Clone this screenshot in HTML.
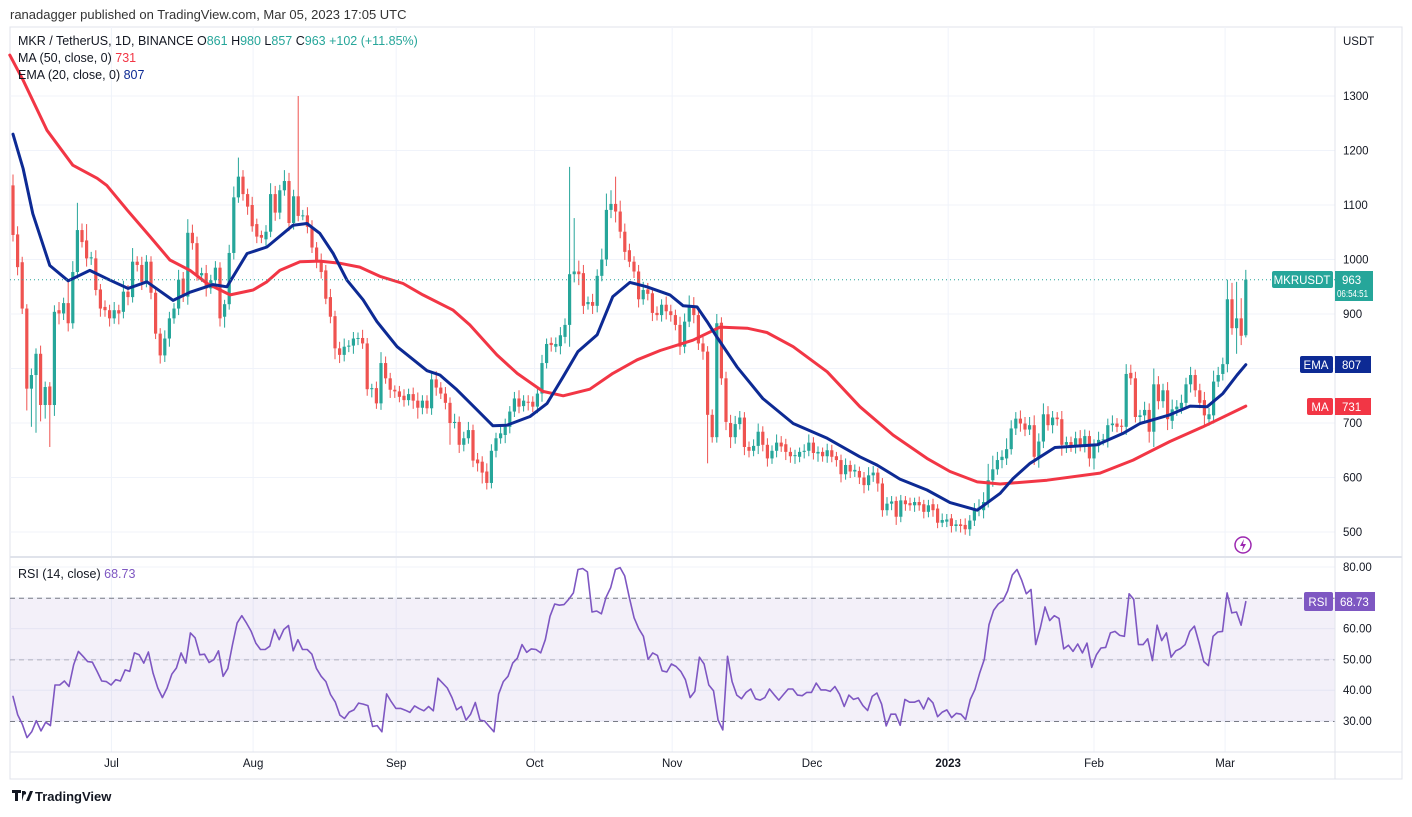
<!DOCTYPE html>
<html><head><meta charset="utf-8"><style>
html,body{margin:0;padding:0;background:#fff;}
body{width:1412px;height:812px;overflow:hidden;font-family:"Liberation Sans",sans-serif;}
svg text{font-family:"Liberation Sans",sans-serif;}
</style></head><body>
<svg id="chart" width="1412" height="812" viewBox="0 0 1412 812" xmlns="http://www.w3.org/2000/svg">
<rect x="0" y="0" width="1412" height="812" fill="#fff"/>
<text x="10" y="19" font-size="13" fill="#333">ranadagger published on TradingView.com, Mar 05, 2023 17:05 UTC</text>
<rect x="10" y="27" width="1392" height="752" fill="none" stroke="#e0e3eb"/>
<g id="grid"></g>
<rect x="10" y="598.3" width="1325" height="123.2" fill="#7e57c2" fill-opacity="0.09"/>
<line x1="10" x2="1335" y1="598.3" y2="598.3" stroke="#787b86" stroke-dasharray="5,4"/>
<line x1="10" x2="1335" y1="659.9" y2="659.9" stroke="#787b86" stroke-opacity="0.5" stroke-dasharray="5,4"/>
<line x1="10" x2="1335" y1="721.5" y2="721.5" stroke="#787b86" stroke-dasharray="5,4"/>
<line x1="10" x2="1402" y1="557" y2="557" stroke="#e0e3eb" stroke-width="2"/>
<line x1="10" x2="1402" y1="752" y2="752" stroke="#e0e3eb"/>
<line x1="1335" x2="1335" y1="27" y2="779" stroke="#e0e3eb"/>
<g id="candles"></g>
<g id="lines"></g>
<g id="labels"></g>
<text x="18" y="45" font-size="12.5" fill="#131722">MKR / TetherUS, 1D, BINANCE  <tspan fill="#131722">O</tspan><tspan fill="#26a69a">861</tspan>  H<tspan fill="#26a69a">980</tspan>  L<tspan fill="#26a69a">857</tspan>  C<tspan fill="#26a69a">963</tspan> <tspan fill="#26a69a">+102 (+11.85%)</tspan></text>
<text x="18" y="62" font-size="12.5" fill="#131722">MA (50, close, 0)  <tspan fill="#f23645">731</tspan></text>
<text x="18" y="79" font-size="12.5" fill="#131722">EMA (20, close, 0)  <tspan fill="#0d2a94">807</tspan></text>
<text x="18" y="578" font-size="12.5" fill="#131722">RSI (14, close)  <tspan fill="#7e57c2">68.73</tspan></text>
<text x="1343" y="45" font-size="11.5" fill="#131722">USDT</text>
<g>
<line x1="10" x2="1335" y1="279.7" y2="279.7" stroke="#26a69a" stroke-dasharray="1,3"/>
<rect x="1272" y="271" width="61" height="17" rx="2" fill="#26a69a"/>
<text x="1302" y="284" font-size="11.5" fill="#fff" text-anchor="middle">MKRUSDT</text>
<rect x="1335" y="271" width="38" height="30" fill="#26a69a"/>
<text x="1342" y="284" font-size="11.5" fill="#fff">963</text>
<text x="1337" y="297" font-size="10" fill="#fff" textLength="31" lengthAdjust="spacingAndGlyphs">06:54:51</text>
</g>
<g>
<rect x="1300" y="356" width="33" height="17" rx="2" fill="#0d2a94"/>
<text x="1316" y="369" font-size="11.5" fill="#fff" text-anchor="middle">EMA</text>
<rect x="1335" y="356" width="36" height="17" fill="#0d2a94"/>
<text x="1342" y="369" font-size="11.5" fill="#fff">807</text>
</g>
<g>
<rect x="1307" y="398" width="26" height="17" rx="2" fill="#f23645"/>
<text x="1320" y="411" font-size="11.5" fill="#fff" text-anchor="middle">MA</text>
<rect x="1335" y="398" width="36" height="17" fill="#f23645"/>
<text x="1342" y="411" font-size="11.5" fill="#fff">731</text>
</g>
<g id="rsiLabel">
<rect x="1304" y="592" width="29" height="19" rx="2" fill="#7e57c2"/>
<text x="1318" y="606" font-size="11.5" fill="#fff" text-anchor="middle">RSI</text>
<rect x="1335" y="592" width="40" height="19" fill="#7e57c2"/>
<text x="1340" y="606" font-size="11.5" fill="#fff">68.73</text>
</g>
<g>
<circle cx="1243" cy="545" r="8" fill="#fff" stroke="#9c27b0" stroke-width="1.5"/>
<path d="M1244 539 L1240 546 L1243 546 L1242 551 L1246 544 L1243 544 Z" fill="#9c27b0"/>
</g>
<g>
<path d="M12 790 h9 v3 h-3 v8 h-3 v-8 h-3z M22 791 l3 0 l-3 10z" fill="#131722"/>
<circle cx="24.5" cy="793" r="1.6" fill="#131722"/>
<path d="M26 801 l4 -10 h3 l-4 10z" fill="#131722"/>
<text x="35" y="801" font-size="13" font-weight="bold" fill="#131722">TradingView</text>
</g>
</svg>
<script>
const open_=[1136,1046,995,910,763,788,827,733,767,733,907,901,920,883,977,1054,1035,1002,1002,945,913,907,892,907,904,941,931,996,990,959,996,939,864,824,855,892,910,965,932,1049,1030,971,975,947,962,985,895,918,1012,1114,1152,1120,1100,1065,1045,1037,1051,1120,1086,1127,1144,1067,1116,1080,1081,1060,1022,999,980,931,896,837,825,840,842,855,856,846,762,764,736,810,782,761,758,750,742,753,741,728,741,727,780,765,754,737,700,702,660,672,687,633,629,611,590,649,672,678,693,721,745,731,739,739,730,754,810,847,840,841,858,880,973,978,975,918,922,915,970,1000,1091,1102,1088,1051,1017,996,978,927,945,938,902,898,917,905,898,880,840,886,916,898,846,831,715,674,884,782,700,674,698,710,656,649,658,684,660,635,649,664,661,647,640,638,647,649,664,644,647,639,650,639,632,606,623,611,612,600,586,604,609,589,540,552,557,528,558,553,549,555,551,537,551,543,517,519,525,511,514,513,505,521,541,540,555,595,615,632,635,652,690,708,699,688,696,638,666,716,696,710,707,660,665,659,672,658,676,635,658,669,670,696,699,695,693,792,782,711,714,724,684,771,740,760,704,725,727,737,771,788,760,742,707,714,776,790,808,927,874,892,861];
const close_=[1045,986,910,763,788,827,733,766,733,904,901,920,883,977,1054,1032,1002,1004,944,910,907,892,907,901,941,931,996,990,959,996,939,864,824,855,892,910,963,932,1049,1030,971,975,947,962,985,892,918,1012,1114,1152,1120,1097,1061,1042,1040,1051,1120,1086,1127,1144,1067,1116,1080,1081,1060,1022,999,977,928,895,837,825,840,842,855,856,846,762,764,736,810,782,761,758,748,742,753,741,728,741,727,780,765,754,737,700,702,660,672,687,631,626,609,590,649,672,681,693,721,745,730,741,738,730,754,810,845,843,845,861,880,973,978,973,915,922,915,970,1000,1091,1102,1088,1051,1014,996,978,927,944,937,902,898,917,905,898,880,840,886,916,898,846,831,715,674,883,782,702,674,698,710,656,649,658,684,660,635,649,664,657,647,639,641,647,649,664,645,647,639,650,638,632,606,623,611,614,600,586,604,609,589,540,552,556,528,558,551,549,555,549,537,549,540,517,522,523,511,514,511,505,521,541,545,555,595,615,632,638,652,690,708,699,688,696,638,666,716,696,710,707,660,665,659,672,658,676,635,658,669,670,696,699,693,693,790,782,711,714,724,684,771,740,760,707,725,730,737,771,788,760,737,714,716,776,788,808,927,874,892,860,963];
const wickUp=[20,15,10,8,12,10,15,10,8,12,15,10,40,20,50,12,30,10,15,10,12,10,15,10,20,12,25,10,15,12,10,8,10,15,12,10,18,12,25,15,12,10,15,10,12,10,8,15,20,35,12,10,15,10,8,12,20,15,10,20,15,12,184,10,15,12,10,12,10,15,10,12,15,10,12,10,15,10,8,12,20,12,10,8,10,12,10,12,15,10,10,12,15,10,12,10,15,10,12,15,10,12,10,15,12,10,12,15,10,12,15,10,12,10,12,15,10,10,12,15,12,197,98,20,15,10,15,12,20,30,25,50,20,15,12,10,12,15,12,10,12,10,15,12,10,15,15,18,15,10,12,10,10,17,10,12,15,15,12,10,10,12,15,10,12,10,15,12,10,8,10,8,12,15,10,10,8,12,10,8,10,12,8,10,8,10,15,12,8,10,12,10,8,10,8,10,8,10,8,10,10,8,12,10,8,8,10,12,10,12,15,18,30,25,15,12,20,15,12,15,12,15,18,15,20,15,12,10,15,10,10,12,15,12,10,12,15,10,12,15,10,12,18,15,12,10,15,12,29,15,12,15,18,12,15,12,15,10,12,15,12,20,15,12,36,30,67,37,18];
const wickDn=[12,15,10,40,70,106,30,25,77,20,20,12,15,10,12,10,15,12,10,15,12,15,10,20,12,15,10,12,15,10,12,10,15,12,15,10,12,10,15,12,10,12,15,10,12,15,20,10,12,10,12,15,10,12,10,12,10,15,12,10,15,12,10,8,12,10,15,12,10,12,20,15,12,10,15,12,10,12,15,10,12,10,15,12,10,12,10,15,20,12,10,12,15,10,12,40,10,15,12,10,12,15,20,12,10,12,10,15,12,10,12,10,15,10,12,15,10,12,10,15,12,40,15,20,15,10,15,12,10,12,15,20,12,15,10,12,15,10,12,15,10,12,15,12,10,15,12,10,15,12,15,89,10,10,12,15,20,12,10,15,12,10,15,12,15,10,12,10,15,12,15,10,12,10,12,15,10,12,10,12,15,10,12,10,12,15,10,12,15,12,10,12,15,10,12,10,12,10,12,10,12,10,8,10,12,10,12,10,12,10,12,15,10,12,10,15,12,10,12,15,12,10,15,20,12,10,15,12,20,15,12,15,10,12,15,20,12,10,15,12,10,12,15,12,10,15,12,20,28,15,12,20,15,12,10,12,15,12,10,20,12,15,10,12,15,12,47,17,4];
const emaIdx=[0,2.2,4.3,8,12,16.7,21.1,25,29.1,34.8,38.5,43.5,46.5,50.9,55.2,60.9,63.9,66.7,69.6,72.6,76.1,79.1,83.5,90,92.8,96.5,100.9,104.3,107.4,112.4,116.1,119.6,122.8,127,130.4,134.1,137.8,142.8,145.7,148.7,150.9,153,157.4,163,169.6,177,184.1,187.8,192.8,198.7,203.7,209.6,214.6,217.4,221.1,226.5,235.7,241.3,245,251.5,255.9,259.6,263,266.1,268];
const emaVal=[1230,1167,1084,989,961,980,962,947,959,925,940,954,950,1011,1023,1063,1066,1048,1011,962,926,886,840,796,788,761,724,695,696,712,736,785,831,862,932,958,950,935,915,913,886,858,803,745,699,672,638,623,597,577,554,540,571,598,626,655,660,681,699,715,731,730,754,788,807];
const maIdx=[-0.7,2.2,7.4,13,18.3,20.4,24.8,29.8,34.1,38.5,42.2,47.2,52.2,55.2,58,62.4,66.7,71.1,75.4,79.8,84.8,89.1,95.7,99.3,105.2,109.6,115.2,119.6,125.4,130.4,135.7,140.7,147.8,153.7,159.6,163.9,169.6,177,184.1,191.3,198.7,203.7,209.6,214.6,224.8,236.3,243.5,251.5,258.7,268];
const maVal=[1375,1329,1237,1173,1149,1136,1091,1042,999,980,956,935,944,959,980,996,997,993,986,969,956,935,907,880,825,791,758,750,762,791,816,833,852,876,874,866,840,794,730,678,635,611,592,588,595,608,632,666,693,731];
const rsiVal=[38,32,29,24.6,26.5,30.1,26.8,29.6,28.5,41.7,41.7,43,41.2,48.3,52.6,51,49.3,49.1,46.1,43,42.8,41.7,43.4,43,46.6,46.1,52.1,51.5,48.8,52.4,45.5,40.7,37.6,40.7,45.2,47.2,52.1,48.8,58.6,57,51.5,51.7,49,49.9,52.8,44.5,47,54.8,61.8,64.2,61.8,59.1,55.3,53.2,53.2,54.3,59.7,56.4,59.7,61,52.8,56.4,53.2,53.2,51.7,47,44.5,42.8,38.6,36.2,31.9,30.8,32.9,33.6,35.8,35.5,35,28.2,28.5,26.5,38.8,36.3,34.1,34.1,33.5,32.8,34.9,34,33.3,34.7,33.3,43.9,42.3,40.7,37.6,33.6,34.7,30.3,32.2,36,30.3,30,28.2,26.5,38.7,42.8,44.5,48.8,50.4,54.8,52.3,53.4,53.2,52.1,56.4,64,68,67.6,67.8,69.5,71.6,79.2,79.5,78.4,65.4,65.7,64.8,70.2,73.3,79.2,79.8,77.1,70,63.5,60,57.5,50,52.1,51.3,46.3,45.9,48.5,47.7,46.1,43.4,37.6,39.6,50.7,48.5,41.7,39.8,30.3,27.1,51,42.8,38.4,37.2,39.3,40.4,37.2,36.8,37.6,40.4,38.5,36.8,38.6,40.4,40.4,38.4,38.2,39.3,39.3,42.3,40.1,40.1,39.6,41.2,38.7,34.7,38.4,37,37.5,35,33.4,38,39.1,35.5,28.4,32.2,32.2,28.6,37,36.1,36.1,36.7,33.9,37.5,35.9,31.4,32.9,33.6,31.1,32.5,32.2,30.5,37,40.3,45.5,50,61.3,65.9,68,69.1,72.2,77.4,79.2,75.7,71.3,72.7,54.8,60.2,67,62.6,64.2,63.3,53.4,54.6,52.6,55,52.1,55.3,47.4,51.5,53.7,53.9,58.6,59.1,57.8,57.5,71.3,69.5,54.8,54.8,56.7,49.6,61.1,56.1,58.6,50.7,52.8,53.5,54.8,59.1,60.8,55.3,49.3,48,57.5,58.9,59.1,71.6,65.1,65.4,61.1,68.73];
const priceTicks=[1300,1200,1100,1000,900,800,700,600,500];
const rsiTicks=[80,70,60,50,40,30];
const monthLabels=["Jul","Aug","Sep","Oct","Nov","Dec","2023","Feb","Mar"];
const monthIdx=[21.4,52.2,83.3,113.4,143.3,173.7,203.3,235,263.5];

const NS="http://www.w3.org/2000/svg";
const N=close_.length;
const X0=13, STEP=4.6;
function xs(i){return X0+i*STEP;}
function yp(p){return 96+(1300-p)*0.545;}
function yr(r){return 567+(80-r)*3.08;}
function mk(tag,attrs,parent){const e=document.createElementNS(NS,tag);for(const k in attrs)e.setAttribute(k,attrs[k]);parent.appendChild(e);return e;}

const grid=document.getElementById('grid');
const labels=document.getElementById('labels');
priceTicks.forEach(p=>{
  const l=mk('line',{x1:10,x2:1335,y1:yp(p),y2:yp(p),stroke:'#f0f3fa'},grid);
  
  
  const t=mk('text',{x:1343,y:yp(p)+4,'font-size':11.5,fill:'#131722'},labels);
  t.textContent=String(p);
  
  
});
rsiTicks.forEach(r=>{
  const l=mk('line',{x1:10,x2:1335,y1:yr(r),y2:yr(r),stroke:'#f0f3fa'},grid);
  
  
  const t=mk('text',{x:1343,y:yr(r)+4,'font-size':11.5,fill:'#131722'},labels);
  t.textContent=r.toFixed(2);
  
  
});
monthLabels.forEach((m,k)=>{
  const x=xs(monthIdx[k]);
  const l=mk('line',{x1:x,x2:x,y1:27,y2:752,stroke:'#f0f3fa'},grid);
  
  
  const t=mk('text',{x:x,y:767,'font-size':11.5,fill:'#131722','text-anchor':'middle','font-weight':m==='2023'?'bold':'normal'},labels);
  t.textContent=m;
  
  
});

const cg=document.getElementById('candles');
for(let i=0;i<N;i++){
  const o=open_[i],c=close_[i];
  const up=c>=o;
  const col=up?'#26a69a':'#ef5350';
  const top=Math.max(o,c),bot=Math.min(o,c);
  const x=xs(i);
  const w=mk('line',{x1:x,x2:x,y1:yp(top+wickUp[i]),y2:yp(bot-wickDn[i]),stroke:col,'stroke-width':1},cg);
  
  
  const h=Math.max(1,yp(bot)-yp(top));
  const b=mk('rect',{x:x-1.6,y:yp(top),width:3.2,height:h,fill:col},cg);
  
  
}
const lg=document.getElementById('lines');
function poly(idx,vals,yf,color,width){
  const pts=idx.map((ix,k)=>xs(ix).toFixed(1)+','+yf(vals[k]).toFixed(1)).join(' ');
  return mk('polyline',{points:pts,fill:'none',stroke:color,'stroke-width':width,'stroke-linejoin':'round','stroke-linecap':'round'},lg);
}
const maLine=poly(maIdx,maVal,yp,'#f23645',3);


const emaLine=poly(emaIdx,emaVal,yp,'#0d2a94',3);


const rIdx=rsiVal.map((v,k)=>k*(N-1)/(rsiVal.length-1));
const rsiLine=poly(rIdx,rsiVal,yr,'#7e57c2',1.6);


</script>
</body></html>
